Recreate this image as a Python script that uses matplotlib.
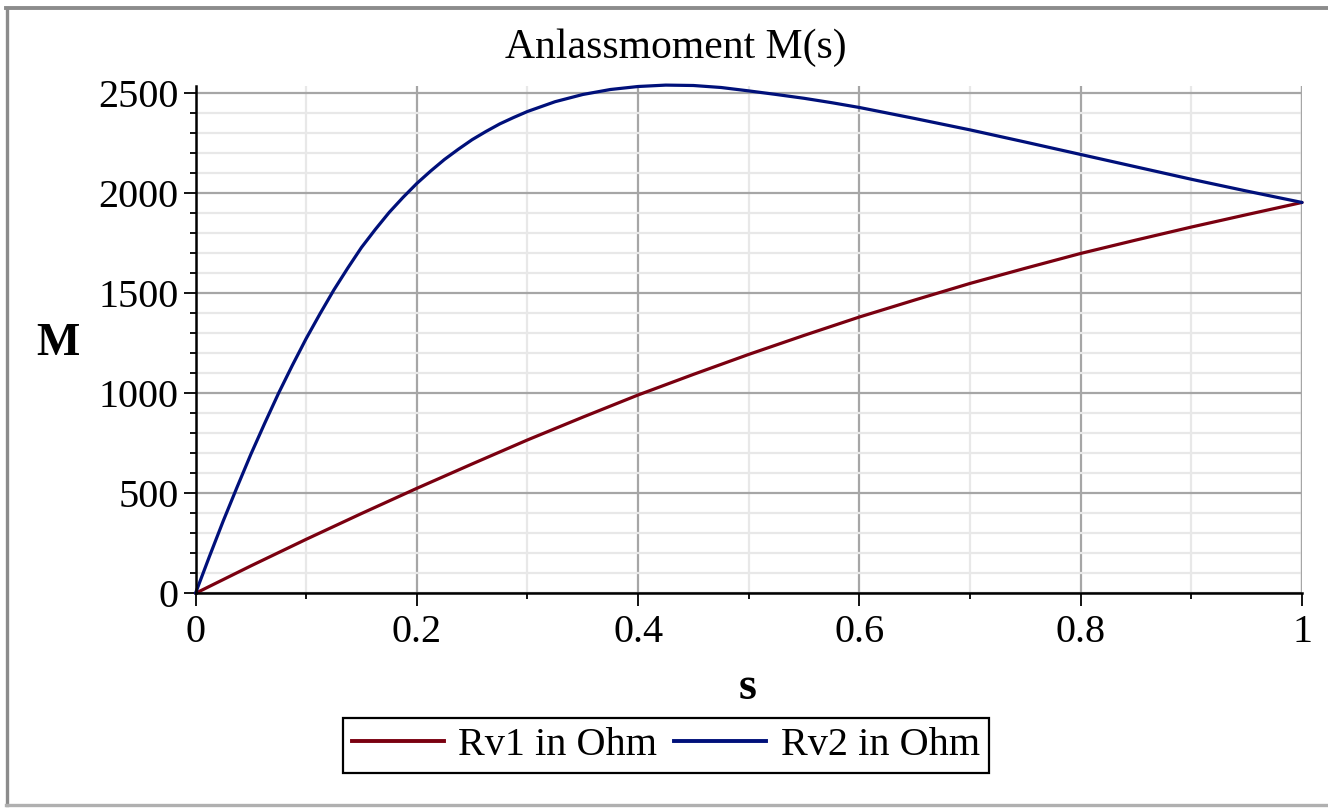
import matplotlib
matplotlib.use("Agg")
import matplotlib.pyplot as plt
from matplotlib.ticker import MultipleLocator, FixedLocator
from matplotlib.lines import Line2D

# ---- data ----
s_rv1 = [0.0, 0.05, 0.1, 0.15, 0.2, 0.25, 0.3, 0.35, 0.4, 0.45, 0.5, 0.55,
         0.6, 0.65, 0.7, 0.75, 0.8, 0.85, 0.9, 0.95, 1.0]
m_rv1 = [0, 137, 270, 399, 525, 647, 767, 881, 992, 1095, 1195, 1290,
         1382, 1467, 1550, 1626, 1700, 1767, 1832, 1894, 1955]

s_rv2 = [0.0, 0.0125, 0.025, 0.0375, 0.05, 0.0625, 0.075, 0.0875, 0.1, 0.1125,
         0.125, 0.1375, 0.15, 0.1625, 0.175, 0.1875, 0.2, 0.2125, 0.225, 0.2375,
         0.25, 0.2625, 0.275, 0.2875, 0.3, 0.325, 0.35, 0.375, 0.4, 0.425, 0.45,
         0.475, 0.5, 0.525, 0.55, 0.575, 0.6, 0.65, 0.7, 0.75, 0.8, 0.85, 0.9,
         0.95, 1.0]
m_rv2 = [0, 183, 361, 530, 695, 850, 1000, 1140, 1274, 1398,
         1517, 1626, 1730, 1820, 1905, 1980, 2050, 2112, 2170, 2221,
         2269, 2310, 2348, 2380, 2410, 2459, 2495, 2520, 2535, 2542, 2540,
         2530, 2513, 2495, 2476, 2454, 2430, 2375, 2318, 2257, 2195, 2133, 2071,
         2012, 1955]

labels = ["Rv1 in Ohm", "Rv2 in Ohm"]
colors = ["#7a0010", "#00107a"]
x_ticks = [0, 0.2, 0.4, 0.6, 0.8, 1]
x_ticklabels = ["0", "0.2", "0.4", "0.6", "0.8", "1"]
y_ticks = [0, 500, 1000, 1500, 2000, 2500]
title = "Anlassmoment M(s)"

W, H = 1328, 810
plt.rcParams['font.family'] = ['Liberation Serif', 'DejaVu Serif']
fig = plt.figure(figsize=(W / 100, H / 100), dpi=100)
fig.patch.set_facecolor("white")

def fx(px):
    return px / W

def fy(py):
    return 1 - py / H

left, right, top, bottom = 195.5, 1302, 85.5, 593.3
ax = fig.add_axes([fx(left), fy(bottom), fx(right) - fx(left), fy(top) - fy(bottom)])

ax.plot(s_rv1, m_rv1, color=colors[0], lw=2.3, solid_capstyle='round',
        solid_joinstyle='round', zorder=5, clip_on=False)
ax.plot(s_rv2, m_rv2, color=colors[1], lw=2.3, solid_capstyle='round',
        solid_joinstyle='round', zorder=5, clip_on=False)

ax.set_xlim(0, 1)
ax.set_ylim(0, 2540)

ax.xaxis.set_major_locator(FixedLocator(x_ticks))
ax.set_xticklabels(x_ticklabels)
ax.xaxis.set_minor_locator(MultipleLocator(0.1))
ax.yaxis.set_major_locator(FixedLocator(y_ticks))
ax.yaxis.set_minor_locator(MultipleLocator(100))

ax.grid(which='minor', color='#e8e8e8', lw=1.6, zorder=0)
ax.grid(which='major', color='#a6a6a6', lw=1.6, zorder=1)
ax.set_axisbelow(True)

for sp in ['top', 'right']:
    ax.spines[sp].set_visible(False)
for sp in ['left', 'bottom']:
    ax.spines[sp].set_linewidth(1.8)
    ax.spines[sp].set_color('black')
    ax.spines[sp].set_zorder(6)

ax.tick_params(axis='both', which='major', direction='out', length=9, width=1.3,
               labelsize=29, colors='black')
ax.tick_params(axis='both', which='minor', direction='out', length=4.5, width=1.3)
ax.tick_params(axis='x', which='major', pad=6)
ax.tick_params(axis='y', which='major', pad=3)

# vertical grid line at right end (s=1)
ax.axvline(1.0, color='#a6a6a6', lw=1.6, zorder=1)

fig.text(fx(676), fy(48), title, ha='center', va='center', fontsize=30)
fig.text(fx(58), fy(344), "M", ha='center', va='center', fontsize=33, fontweight='bold')
fig.text(fx(748), fy(688), "s", ha='center', va='center', fontsize=33, fontweight='bold')

handles = [Line2D([], [], color=colors[0], lw=2.8), Line2D([], [], color=colors[1], lw=2.8)]
leg = fig.legend(handles, labels, loc='center', bbox_to_anchor=(fx(666), fy(745.5)),
                 ncol=2, fontsize=29, frameon=True, fancybox=False, framealpha=1,
                 edgecolor='black', handlelength=2.28, handletextpad=0.37,
                 columnspacing=0.42, borderpad=0.22, borderaxespad=0)
leg.get_frame().set_linewidth(1.6)

# outer frame
fig.add_artist(Line2D([fx(6.5), fx(6.5)], [fy(8), fy(804.5)], color='#8c8c8c', lw=2.4, transform=fig.transFigure))
fig.add_artist(Line2D([fx(5.5), fx(1328)], [fy(7.5), fy(7.5)], color='#8c8c8c', lw=2.8, transform=fig.transFigure))
fig.add_artist(Line2D([fx(5.5), fx(1328)], [fy(804.5), fy(804.5)], color='#b0b0b0', lw=2.4, transform=fig.transFigure))

fig.savefig("out.png", dpi=100, facecolor="white")
